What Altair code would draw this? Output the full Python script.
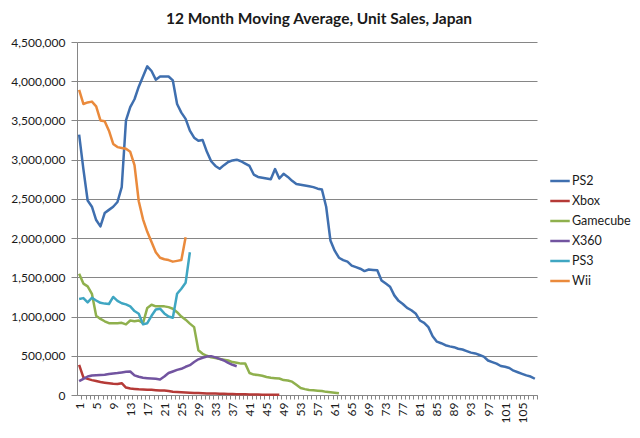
import altair as alt
import pandas as pd

# ---- data ----
series_names = ["PS2", "Xbox", "Gamecube", "X360", "PS3", "Wii"]
series_colors = ["#3F6FAF", "#B53A37", "#8FB04D", "#7254A0", "#3FA6C2", "#EA8A3C"]

ps2 = [3320000, 2880000, 2480000, 2400000, 2230000, 2150000, 2320000, 2360000, 2400000, 2460000,
       2650000, 3500000, 3670000, 3770000, 3930000, 4060000, 4190000, 4130000, 4020000, 4060000,
       4060000, 4060000, 4010000, 3710000, 3600000, 3520000, 3370000, 3280000, 3240000, 3250000,
       3100000, 2980000, 2920000, 2885000, 2930000, 2970000, 2990000, 3000000, 2980000, 2950000,
       2920000, 2810000, 2780000, 2770000, 2760000, 2750000, 2880000, 2760000, 2820000, 2780000,
       2730000, 2690000, 2680000, 2670000, 2660000, 2650000, 2630000, 2620000, 2400000, 1970000,
       1840000, 1750000, 1720000, 1700000, 1650000, 1630000, 1610000, 1580000, 1600000, 1595000,
       1590000, 1460000, 1420000, 1380000, 1270000, 1200000, 1160000, 1110000, 1080000, 1040000,
       950000, 920000, 865000, 750000, 680000, 660000, 635000, 620000, 610000, 590000,
       580000, 560000, 540000, 530000, 510000, 490000, 440000, 420000, 400000, 370000,
       360000, 345000, 310000, 290000, 270000, 250000, 235000, 207000]

xbox = [385000, 225000, 205000, 190000, 178000, 165000, 157000, 150000, 144000, 140000,
        150000, 95000, 82000, 78000, 73000, 70000, 68000, 66000, 62000, 58000,
        56000, 50000, 42000, 38000, 35000, 32000, 30000, 26000, 24000, 22000,
        20000, 19000, 18000, 16000, 15000, 14000, 12000, 11000, 10000, 8000,
        7000, 6000, 5000, 4000, 4000, 3000, 3000, 3000]

gamecube = [1545000, 1420000, 1385000, 1290000, 1010000, 970000, 940000, 915000, 915000, 915000,
            920000, 900000, 950000, 940000, 950000, 915000, 1110000, 1150000, 1130000, 1130000,
            1130000, 1120000, 1100000, 1055000, 1000000, 960000, 910000, 865000, 570000, 525000,
            500000, 480000, 470000, 460000, 450000, 440000, 420000, 410000, 400000, 400000,
            280000, 260000, 255000, 245000, 230000, 220000, 215000, 210000, 190000, 185000,
            170000, 130000, 90000, 75000, 65000, 60000, 55000, 50000, 40000, 35000,
            30000, 23000]

x360 = [176000, 206000, 236000, 249000, 252000, 255000, 258000, 268000, 275000, 280000,
        288000, 295000, 300000, 250000, 232000, 220000, 215000, 210000, 206000, 198000,
        235000, 280000, 300000, 320000, 334000, 360000, 380000, 420000, 455000, 475000,
        490000, 495000, 480000, 460000, 440000, 410000, 385000, 367000]

ps3 = [1225000, 1235000, 1180000, 1240000, 1205000, 1175000, 1165000, 1160000, 1250000, 1200000,
       1170000, 1155000, 1130000, 1070000, 1035000, 900000, 915000, 1010000, 1090000, 1100000,
       1040000, 1000000, 985000, 1290000, 1355000, 1430000, 1820000]

wii = [3890000, 3710000, 3730000, 3740000, 3680000, 3500000, 3490000, 3370000, 3200000, 3160000,
       3150000, 3140000, 3100000, 2930000, 2470000, 2240000, 2080000, 1950000, 1820000, 1750000,
       1730000, 1720000, 1700000, 1710000, 1720000, 2010000]

n_months = 108
y_ticks = list(range(0, 4500001, 500000))
x_ticks = list(range(1, n_months + 1))

rows = []
for name, vals in zip(series_names, [ps2, xbox, gamecube, x360, ps3, wii]):
    for i, v in enumerate(vals):
        rows.append({"month": i + 1, "series": name, "units": v})
df = pd.DataFrame(rows)

W, H = 460, 353
half_band = W / n_months / 2
FONT = "Lato"
GRAY = "#868686"
TEXT = "#1a1a1a"

chart = alt.Chart(df).mark_line(strokeWidth=2.5, strokeJoin="round").encode(
    x=alt.X("month:Q",
            scale=alt.Scale(domain=[0.5, n_months + 0.5], nice=False, zero=False),
            axis=alt.Axis(title=None, values=x_ticks, grid=False, format="d",
                          labelExpr="(datum.value - 1) % 4 == 0 ? datum.label : ''",
                          labelAngle=270, labelOverlap=False, labelFlush=False,
                          tickOffset=half_band, labelOffset=-half_band,
                          tickSize=4, tickColor=GRAY, domainColor=GRAY,
                          labelPadding=3, labelFontSize=12, labelFont=FONT,
                          labelColor=TEXT)),
    y=alt.Y("units:Q",
            scale=alt.Scale(domain=[0, 4500000], nice=False),
            axis=alt.Axis(title=None, values=y_ticks, format=",.0f", grid=True,
                          gridColor=GRAY, tickSize=6, tickColor=GRAY,
                          domainColor=GRAY, labelPadding=6, labelFontSize=12,
                          labelFont=FONT, labelColor=TEXT)),
    color=alt.Color("series:N",
                    scale=alt.Scale(domain=series_names, range=series_colors),
                    sort=series_names,
                    legend=alt.Legend(title=None, orient="none", legendX=472, legendY=128,
                                      symbolType="stroke", symbolSize=380,
                                      symbolStrokeWidth=2.5, rowPadding=2,
                                      labelOffset=1, labelFontSize=12.5, labelFont=FONT,
                                      labelColor=TEXT, padding=0)),
).properties(
    width=W, height=H,
    title=alt.TitleParams("12 Month Moving Average, Unit Sales, Japan",
                          font=FONT, fontSize=15.5, fontWeight="bold", color=TEXT,
                          anchor="middle", dx=12, offset=9),
    padding={"left": 69, "top": 34, "right": 95, "bottom": 35},
    autosize=alt.AutoSizeParams(type="none"),
).configure_view(stroke=None)

chart.save("out.html", embed_options={"renderer": "svg", "actions": False})
